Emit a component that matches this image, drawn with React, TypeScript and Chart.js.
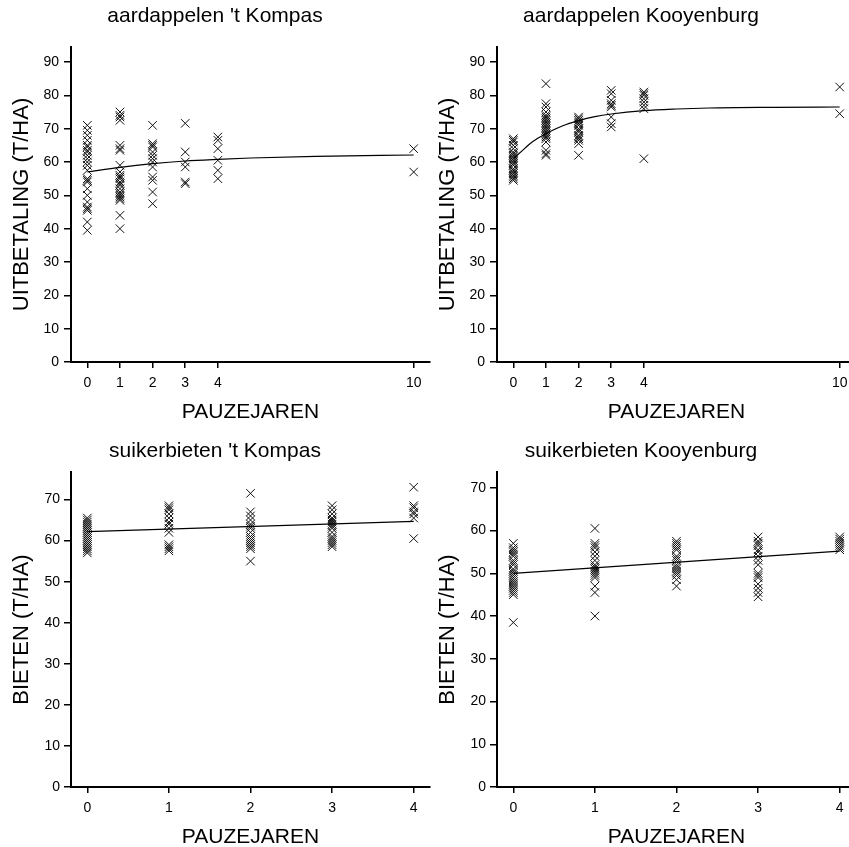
import React, { useEffect, useRef } from 'react';
import { Chart, registerables } from 'chart.js';

Chart.register(...registerables);

const FONT = "'Liberation Sans', Arial, Helvetica, sans-serif";

// ---------- aardappelen 't Kompas ----------
const akPauze = [0, 1, 2, 3, 4, 10];
const ak0 = [71, 69.5, 68, 66.5, 65, 64.5, 63.5, 63, 62, 61, 60, 59, 57.5, 55, 54.5, 54, 52, 50, 48, 46.5, 46, 45.5, 42, 39.5];
const ak1 = [75, 74, 73.5, 72.5, 65, 64, 63.5, 59, 57, 56, 55.5, 55, 54, 53.5, 53, 52, 51, 50.5, 50, 49.5, 49, 48.5, 44, 40];
const ak2 = [71, 65.5, 65, 64.5, 63, 62, 61, 60, 58.5, 55.5, 54.5, 51, 47.5];
const ak3 = [71.6, 63, 60, 58.5, 54, 53.5];
const ak4 = [67.5, 66.5, 64, 60.5, 57.5, 55];
const ak10 = [64, 57];
const akFitX = [0, 1, 2, 3, 4, 5, 7, 10];
const akFitY = [57, 58.4, 59.5, 60.3, 60.8, 61.2, 61.7, 62.1];

// ---------- aardappelen Kooyenburg ----------
const aoPauze = [0, 1, 2, 3, 4, 10];
const ao0 = [67, 66.5, 66, 65, 64, 63, 62.5, 62, 61.5, 61, 60.5, 60, 59.5, 59, 58, 57.5, 57, 56.5, 56, 55.5, 55, 54.5];
const ao1 = [83.5, 77.5, 76.5, 75, 74, 73.5, 73, 72.5, 72, 71.5, 71, 70.5, 70, 69.5, 69, 68.5, 68, 67.5, 67, 66, 63.5, 62.5, 62];
const ao2 = [73.5, 73, 72.5, 72, 71.5, 71, 70, 69.5, 69, 68, 67.5, 67, 66.5, 65.5, 62];
const ao3 = [81.5, 80.5, 78.5, 77.5, 77, 76.5, 73.5, 71.5, 70.5];
const ao4 = [81, 80.5, 80, 79, 78, 77, 76, 61];
const ao10 = [82.5, 74.5];
const aoFitX = [0, 0.25, 0.5, 0.75, 1, 1.5, 2, 2.5, 3, 4, 5, 6, 8, 10];
const aoFitY = [61, 63.2, 65.4, 67.1, 68.5, 70.8, 72.4, 73.6, 74.4, 75.4, 75.9, 76.2, 76.4, 76.5];

// ---------- suikerbieten 't Kompas ----------
const skPauze = [0, 1, 2, 3, 4];
const sk0 = [65.5, 65, 64.5, 64, 63.5, 63, 62.5, 62, 61.5, 61, 60.5, 60, 59.5, 59, 58.5, 58, 57.5, 57];
const sk1 = [68.5, 68, 67.5, 66.5, 65.5, 64.5, 64, 63, 62, 59, 58.5, 58, 57.5];
const sk2 = [71.5, 67, 66, 65, 64, 63.5, 63, 62, 61, 60.5, 60, 59.5, 59, 58.5, 58, 55];
const sk3 = [68.5, 67.5, 66.5, 65.5, 65, 64.5, 64, 63.5, 63, 62, 61, 60.5, 60, 59.5, 59, 58.5];
const sk4 = [73, 68.5, 68, 67, 66.5, 65.5, 60.5];
const skFitX = [0, 4];
const skFitY = [62.2, 64.7];

// ---------- suikerbieten Kooyenburg ----------
const soPauze = [0, 1, 2, 3, 4];
const so0 = [57, 56, 55.5, 55, 54.5, 54, 53, 52.5, 52, 51, 50.5, 50, 49.5, 49, 48.5, 48, 47.5, 47, 46.5, 46, 45.5, 45, 38.5];
const so1 = [60.5, 57, 56.5, 56, 55, 54, 53, 52, 51.5, 51, 50.5, 50, 49.5, 49, 47, 45.5, 40];
const so2 = [57.5, 57, 56.5, 56, 55.5, 54, 53.5, 53, 52, 51.5, 51, 50.5, 50, 49.5, 48.5, 47];
const so3 = [58.5, 57.5, 57, 56.5, 55.5, 55, 54, 53, 52, 50, 49.5, 49, 47.5, 46.5, 45.5, 44.5];
const so4 = [58.5, 58, 57.5, 57, 56.5, 56, 55.5];
const soFitX = [0, 4];
const soFitY = [50, 55.2];

type PanelProps = {
  title: string;
  yTitle: string;
  pauze: number[];
  groups: number[][];
  fitX: number[];
  fitY: number[];
  xMin: number;
  xMax: number;
  yMax: number;
  left: number;
  top: number;
  height: number;
  xAxisH: number;
  titlePadTop: number;
  titlePadBottom: number;
  yTickPad: number;
};

function Panel(p: PanelProps) {
  const ref = useRef<HTMLCanvasElement | null>(null);
  useEffect(() => {
    if (!ref.current) return;
    const points = p.groups.flatMap((g, i) => g.map((v) => ({ x: p.pauze[i], y: v })));
    const fit = p.fitX.map((x, i) => ({ x, y: p.fitY[i] }));
    const chart = new Chart(ref.current, {
      type: 'scatter',
      data: {
        datasets: [
          {
            data: fit,
            showLine: true,
            pointRadius: 0,
            borderColor: '#000',
            borderWidth: 1.2,
            cubicInterpolationMode: 'monotone',
          } as any,
          {
            data: points,
            pointStyle: 'crossRot',
            pointRadius: 6,
            pointHoverRadius: 6,
            borderColor: '#111',
            borderWidth: 1,
            backgroundColor: 'transparent',
          },
        ],
      },
      options: {
        animation: false,
        responsive: false,
        events: [],
        layout: { padding: { left: 0, right: 10, top: 0, bottom: 0 } },
        plugins: {
          legend: { display: false },
          tooltip: { enabled: false },
          title: {
            display: true,
            text: p.title,
            color: '#000',
            font: { family: FONT, size: 21, weight: 'normal' },
            padding: { top: p.titlePadTop, bottom: p.titlePadBottom },
          },
        },
        scales: {
          x: {
            type: 'linear',
            position: 'bottom',
            min: p.xMin,
            max: p.xMax,
            afterBuildTicks: (s: any) => {
              s.ticks = p.pauze.map((value) => ({ value }));
            },
            afterFit: (s: any) => {
              s.height = p.xAxisH;
            },
            grid: { drawOnChartArea: false, drawTicks: true, tickLength: 6, color: '#000', lineWidth: 1.5 },
            border: { display: true, color: '#000', width: 2 },
            ticks: { color: '#000', padding: 7, font: { family: FONT, size: 14 } },
            title: {
              display: true,
              text: 'PAUZEJAREN',
              color: '#000',
              font: { family: FONT, size: 21 },
              padding: { top: 0, bottom: 0 },
            },
          },
          y: {
            type: 'linear',
            min: 0,
            max: p.yMax,
            afterFit: (s: any) => {
              s.width = 71;
            },
            grid: { drawOnChartArea: false, drawTicks: true, tickLength: 7, color: '#000', lineWidth: 1.5 },
            border: { display: true, color: '#000', width: 2 },
            ticks: { color: '#000', stepSize: 10, includeBounds: false, padding: p.yTickPad, font: { family: FONT, size: 14 } } as any,
            title: {
              display: true,
              text: p.yTitle,
              color: '#000',
              font: { family: FONT, size: 22 },
              padding: { top: 9, bottom: 0 },
            },
          },
        },
      },
    });
    return () => chart.destroy();
  }, []);
  return (
    <canvas
      ref={ref}
      width={440}
      height={p.height}
      style={{ position: 'absolute', left: p.left, top: p.top, width: 440, height: p.height }}
    />
  );
}

export default function App() {
  const topCommon = { xMin: -0.5, xMax: 10.5, yMax: 94.5, top: 0, height: 425, xAxisH: 63, titlePadTop: 4, titlePadBottom: 17.8, yTickPad: 5 };
  const botCommon = { xMin: -0.2, xMax: 4.2, top: 424, height: 426, xAxisH: 63, titlePadTop: 14.4, titlePadBottom: 8.4, yTickPad: 4 };
  return (
    <div style={{ position: 'fixed', left: 0, top: 0, width: 849, height: 847, overflow: 'hidden', background: '#fff' }}>
      <Panel
        {...topCommon}
        left={0}
        title="aardappelen 't Kompas"
        yTitle="UITBETALING (T/HA)"
        pauze={akPauze}
        groups={[ak0, ak1, ak2, ak3, ak4, ak10]}
        fitX={akFitX}
        fitY={akFitY}
      />
      <Panel
        {...topCommon}
        left={426}
        title="aardappelen Kooyenburg"
        yTitle="UITBETALING (T/HA)"
        pauze={aoPauze}
        groups={[ao0, ao1, ao2, ao3, ao4, ao10]}
        fitX={aoFitX}
        fitY={aoFitY}
      />
      <Panel
        {...botCommon}
        left={0}
        yMax={76.7}
        title="suikerbieten 't Kompas"
        yTitle="BIETEN (T/HA)"
        pauze={skPauze}
        groups={[sk0, sk1, sk2, sk3, sk4]}
        fitX={skFitX}
        fitY={skFitY}
      />
      <Panel
        {...botCommon}
        left={426}
        yMax={73.7}
        title="suikerbieten Kooyenburg"
        yTitle="BIETEN (T/HA)"
        pauze={soPauze}
        groups={[so0, so1, so2, so3, so4]}
        fitX={soFitX}
        fitY={soFitY}
      />
    </div>
  );
}
